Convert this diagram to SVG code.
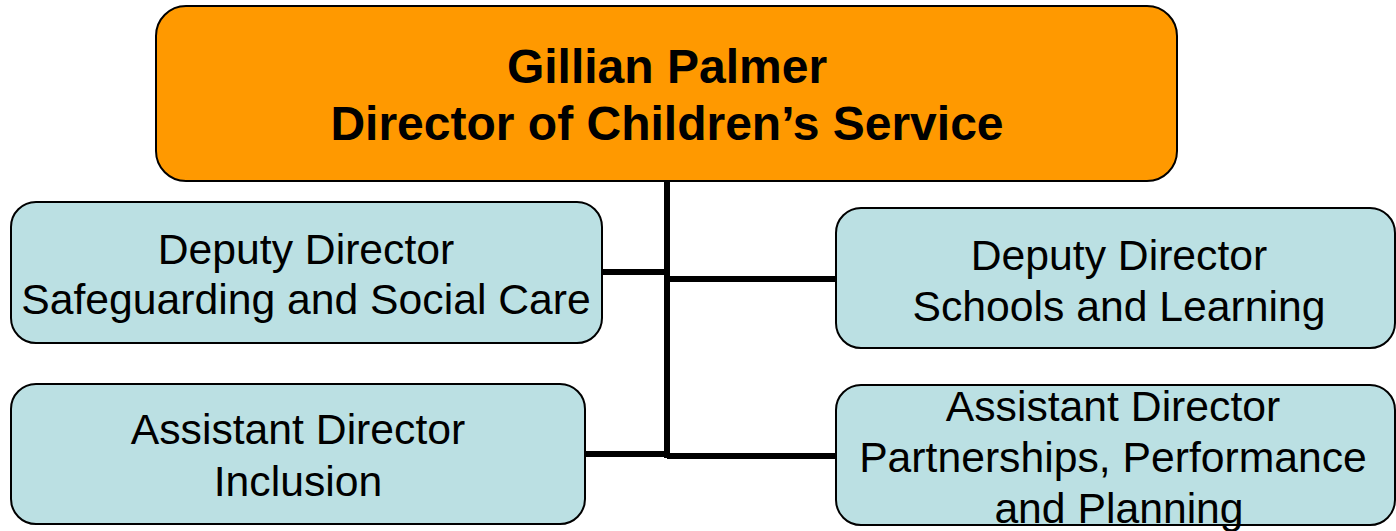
<svg xmlns="http://www.w3.org/2000/svg" width="1396" height="531" viewBox="0 0 1396 531">
<style>
.box{stroke:#000;stroke-width:2}
.top{fill:#FF9900}
.sub{fill:#BBE0E3}
.t{font-family:"Liberation Sans",Arial,sans-serif;fill:#000;text-anchor:middle}
.tb{font-size:48px;font-weight:bold}
.ts{font-size:42.7px}
.c{stroke:#000;stroke-width:6;fill:none}
</style>
<rect width="1396" height="531" fill="#fff"/>
<g id="connectors">
<line class="c" x1="667" y1="181" x2="667" y2="458"/>
<line class="c" x1="601" y1="272" x2="667" y2="272"/>
<line class="c" x1="667" y1="279" x2="837" y2="279"/>
<line class="c" x1="585" y1="454" x2="667" y2="454"/>
<line class="c" x1="667" y1="456" x2="837" y2="456"/>
</g>
<g id="director">
<rect class="box top" x="156" y="6" width="1021" height="175" rx="30"/>
<text class="t tb" x="667" y="83">Gillian Palmer</text>
<text class="t tb" x="667" y="140">Director of Children’s Service</text>
</g>
<g id="dd-safeguarding">
<rect class="box sub" x="11" y="202" width="591" height="141" rx="25"/>
<text class="t ts" x="306" y="264">Deputy Director</text>
<text class="t ts" x="306" y="314">Safeguarding and Social Care</text>
</g>
<g id="dd-schools">
<rect class="box sub" x="836" y="208" width="559" height="140" rx="25"/>
<text class="t ts" x="1119" y="270">Deputy Director</text>
<text class="t ts" x="1119" y="321">Schools and Learning</text>
</g>
<g id="ad-inclusion">
<rect class="box sub" x="11" y="384" width="574" height="140" rx="25"/>
<text class="t ts" x="298" y="444">Assistant Director</text>
<text class="t ts" x="298" y="496">Inclusion</text>
</g>
<g id="ad-partnerships">
<rect class="box sub" x="836" y="385" width="559" height="140" rx="25"/>
<text class="t ts" x="1113" y="421">Assistant Director</text>
<text class="t ts" x="1113" y="472">Partnerships, Performance</text>
<text class="t ts" x="1119" y="523">and Planning</text>
</g>
</svg>
